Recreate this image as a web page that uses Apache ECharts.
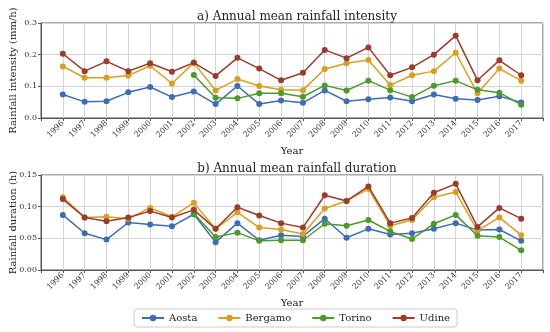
<!DOCTYPE html>
<html><head><meta charset="utf-8">
<script src="https://cdn.jsdelivr.net/npm/echarts@6/dist/echarts.min.js"></script>
<style>html,body{margin:0;padding:0;background:#fff}#c{width:550px;height:332px}</style>
</head><body><div id="c"></div>
<script>
const years = [1996,1997,1998,1999,2000,2001,2002,2003,2004,2005,2006,2007,2008,2009,2010,2011,2012,2013,2014,2015,2016,2017];
const stations = ['Aosta','Bergamo','Torino','Udine'];
const colors = ['#3d6db5','#d8a01d','#4b9a2c','#9b3b2b'];

// a) Annual mean rainfall intensity (mm/h)
const intAosta   = [0.074,0.051,0.053,0.081,0.098,0.066,0.084,0.044,0.101,0.044,0.055,0.048,0.087,0.053,0.059,0.065,0.053,0.074,0.061,0.057,0.069,0.049];
const intBergamo = [0.163,0.127,0.127,0.134,0.165,0.109,0.174,0.087,0.123,0.101,0.089,0.088,0.155,0.173,0.183,0.104,0.135,0.148,0.206,0.078,0.156,0.118];
const intTorino  = [null,null,null,null,null,null,0.136,0.064,0.062,0.078,0.078,0.067,0.103,0.087,0.118,0.088,0.066,0.102,0.118,0.089,0.080,0.042];
const intUdine   = [0.203,0.148,0.179,0.148,0.173,0.146,0.175,0.133,0.190,0.156,0.119,0.143,0.215,0.189,0.223,0.135,0.160,0.200,0.260,0.119,0.182,0.135];

// b) Annual mean rainfall duration (h)
const durAosta   = [0.087,0.058,0.048,0.075,0.072,0.069,0.088,0.044,0.074,0.047,0.055,0.053,0.081,0.051,0.065,0.056,0.058,0.065,0.074,0.063,0.064,0.046];
const durBergamo = [0.115,0.083,0.084,0.081,0.098,0.084,0.106,0.065,0.091,0.067,0.064,0.057,0.097,0.109,0.128,0.070,0.079,0.115,0.123,0.062,0.083,0.055];
const durTorino  = [null,null,null,null,null,null,0.089,0.052,0.059,0.046,0.047,0.047,0.073,0.070,0.079,0.061,0.049,0.073,0.087,0.054,0.052,0.031];
const durUdine   = [0.112,0.083,0.077,0.083,0.093,0.083,0.095,0.065,0.099,0.086,0.074,0.067,0.118,0.109,0.132,0.074,0.082,0.122,0.136,0.068,0.098,0.081];

const intTicks = [0, 0.1, 0.2, 0.3];
const durTicks = [0, 0.05, 0.10, 0.15];

const serif = 'DejaVu Serif';
const toPairs = vals => years.map((y,i)=>[y, vals[i]]).filter(p=>p[1]!==null);

function mkSeries(name, vals, idx, ci){
  return {
    name, type:'line', xAxisIndex:idx, yAxisIndex:idx,
    data: toPairs(vals), symbol:'circle', symbolSize:6,
    lineStyle:{width:1.5,color:colors[ci]}, itemStyle:{color:colors[ci]},
    emphasis:{disabled:true}, animation:false, z:3+ci
  };
}

const xAxisBase = (idx) => ({
  type:'value', gridIndex:idx, min:1995, max:2018, interval:1,
  name:'Year', nameLocation:'middle', nameGap:28, nameMoveOverlap:false,
  nameTextStyle:{fontFamily:serif,fontSize:10,color:'#222'},
  axisLine:{show:true,onZero:false,lineStyle:{color:'#555',width:1}},
  axisTick:{show:true,length:3,lineStyle:{color:'#555'}},
  axisLabel:{rotate:45,fontFamily:serif,fontSize:8,color:'#333',margin:4,
    formatter:v=> (v<1996||v>2017)?'':String(v)},
  splitLine:{show:true,lineStyle:{color:'#d4d4d4',width:1}}
});

const yAxisBase = (idx, ticks, name, dec) => ({
  type:'value', gridIndex:idx, min:ticks[0], max:ticks[ticks.length-1],
  interval:ticks[1]-ticks[0],
  name, nameLocation:'middle', nameGap:23, nameMoveOverlap:false,
  nameTextStyle:{fontFamily:serif,fontSize:10,color:'#222'},
  axisLine:{show:true,lineStyle:{color:'#555',width:1}},
  axisTick:{show:true,length:3,lineStyle:{color:'#555'}},
  axisLabel:{fontFamily:serif,fontSize:8,color:'#333',margin:4,formatter:v=>v.toFixed(dec)},
  splitLine:{show:true,lineStyle:{color:'#d4d4d4',width:1}}
});

const chart = echarts.init(document.getElementById('c'), null, {renderer:'canvas'});
chart.setOption({
  animation:false,
  backgroundColor:'#fff',
  title:[
    {text:'a) Annual mean rainfall intensity', left:292, top:6, textAlign:'center',
      textStyle:{fontFamily:serif,fontSize:12,fontWeight:'normal',color:'#222'}},
    {text:'b) Annual mean rainfall duration', left:292, top:158, textAlign:'center',
      textStyle:{fontFamily:serif,fontSize:12,fontWeight:'normal',color:'#222'}}
  ],
  grid:[
    {left:41, right:7, top:23, height:95, show:true, borderColor:'#555', borderWidth:1, containLabel:false, outerBoundsMode:'none'},
    {left:41, right:7, top:175, height:95, show:true, borderColor:'#555', borderWidth:1, containLabel:false, outerBoundsMode:'none'}
  ],
  xAxis:[xAxisBase(0), xAxisBase(1)],
  yAxis:[yAxisBase(0,intTicks,'Rainfall intensity (mm/h)',1), yAxisBase(1,durTicks,'Rainfall duration (h)',2)],
  legend:{
    data:stations, bottom:5, left:134,
    itemWidth:22, itemHeight:8, itemGap:20,
    padding:[4,7], borderColor:'#ccc', borderWidth:1, borderRadius:3,
    textStyle:{fontFamily:serif,fontSize:10,color:'#222'}
  },
  series:[
    mkSeries('Aosta',intAosta,0,0), mkSeries('Bergamo',intBergamo,0,1),
    mkSeries('Torino',intTorino,0,2), mkSeries('Udine',intUdine,0,3),
    mkSeries('Aosta',durAosta,1,0), mkSeries('Bergamo',durBergamo,1,1),
    mkSeries('Torino',durTorino,1,2), mkSeries('Udine',durUdine,1,3)
  ]
});
</script></body></html>
